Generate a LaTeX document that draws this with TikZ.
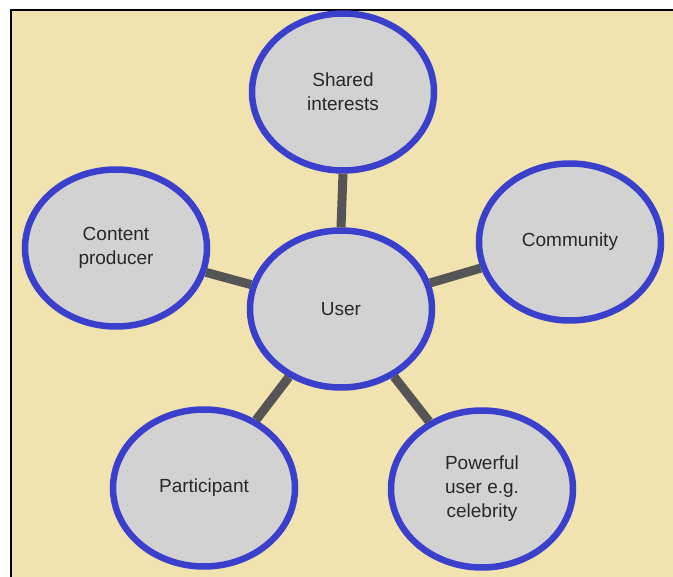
\documentclass[tikz,border=0pt]{standalone}
\usepackage{fontspec}
\setmainfont{Liberation Sans}
\usetikzlibrary{shapes.geometric}
\definecolor{bgbeige}{RGB}{240,227,176}
\definecolor{ringblue}{RGB}{58,64,204}
\definecolor{fillgrey}{RGB}{210,210,210}
\definecolor{linkgrey}{RGB}{85,85,85}
\definecolor{txtgrey}{RGB}{40,40,40}
\begin{document}
\begin{tikzpicture}[x=1pt,y=-1pt,
  bubble/.style={ellipse, draw=ringblue, line width=6.5pt, fill=fillgrey,
    minimum width=182pt, minimum height=157pt, inner sep=0pt,
    text=txtgrey, align=center,
    font=\fontsize{19}{24}\selectfont},
  link/.style={draw=linkgrey, line width=9pt}]
\useasboundingbox (0,0) rectangle (673,577);
\fill[white] (0,0) rectangle (673,577);
\fill[bgbeige] (11,10) rectangle (673,577);
\draw[black, line width=1.4pt] (11,577) -- (11,10) -- (673,10);
\begin{scope}
\clip (11,10.7) rectangle (673,577);
\node[bubble] (shared) at (343,92) {Shared\\interests};
\end{scope}
\node[bubble] (user) at (341,309) {User};
\node[bubble] (content) at (116,248) {Content\\producer};
\node[bubble] (community) at (570,242) {Community};
\node[bubble] (participant) at (204,488) {Participant};
\node[bubble] (powerful) at (482,489) {Powerful\\user e.g.\\celebrity};
\draw[link] (shared.south) -- (user.north);
\draw[link] (content) -- (user);
\draw[link] (community) -- (user);
\draw[link] (participant) -- (user);
\draw[link] (powerful) -- (user);
\end{tikzpicture}
\end{document}
